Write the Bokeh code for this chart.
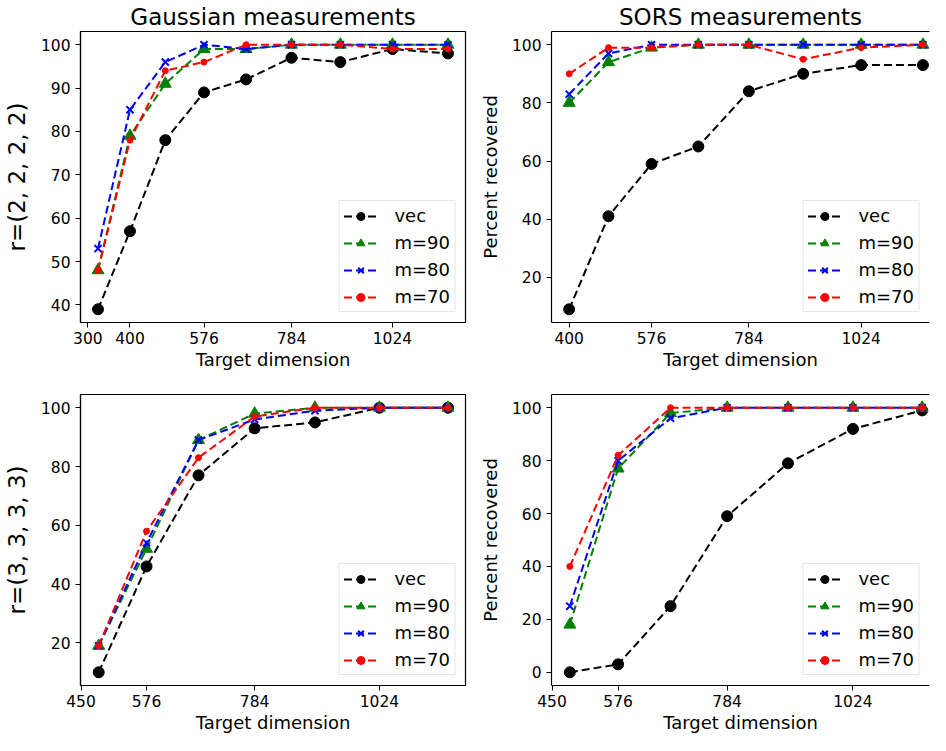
from bokeh.plotting import figure
from bokeh.layouts import column, row
from bokeh.models import Range1d, FixedTicker, LinearAxis
from bokeh.embed import file_html
from bokeh.resources import INLINE

FONT = "DejaVu Sans"

# ---- data ----
labels = ["vec", "m=90", "m=80", "m=70"]

x_tl = [324, 400, 484, 576, 676, 784, 900, 1024, 1156]
tl_vec = [39, 57, 78, 89, 92, 97, 96, 99, 98]
tl_m90 = [48, 79, 91, 99, 99, 100, 100, 100, 100]
tl_m80 = [53, 85, 96, 100, 99, 100, 100, 100, 100]
tl_m70 = [48, 78, 94, 96, 100, 100, 100, 99, 99]

x_tr = [400, 484, 576, 676, 784, 900, 1024, 1156]
tr_vec = [9, 41, 59, 65, 84, 90, 93, 93]
tr_m90 = [80, 94, 99, 100, 100, 100, 100, 100]
tr_m80 = [83, 97, 100, 100, 100, 100, 100, 100]
tr_m70 = [90, 99, 99, 100, 100, 95, 99, 100]

x_b = [484, 576, 676, 784, 900, 1024, 1156]
bl_vec = [10, 46, 77, 93, 95, 100, 100]
bl_m90 = [19, 52, 89, 98, 100, 100, 100]
bl_m80 = [19, 54, 89, 96, 99, 100, 100]
bl_m70 = [19, 58, 83, 97, 100, 100, 100]

br_vec = [0, 3, 25, 59, 79, 92, 99]
br_m90 = [18, 77, 98, 100, 100, 100, 100]
br_m80 = [25, 80, 96, 100, 100, 100, 100]
br_m70 = [40, 82, 100, 100, 100, 100, 100]

xticks_tl = [300, 400, 576, 784, 1024]
xticks_tr = [400, 576, 784, 1024]
xticks_b = [450, 576, 784, 1024]
yticks_tl = [40, 50, 60, 70, 80, 90, 100]
yticks_20 = [0, 20, 40, 60, 80, 100]

titles = ["Gaussian measurements", "SORS measurements"]
ylab_tl = "r=(2, 2, 2, 2)"
ylab_bl = "r=(3, 3, 3, 3)"
ylab_right = "Percent recovered"
xlab = "Target dimension"

styles = [
    dict(color="black", marker="circle", size=11),
    dict(color="#008000", marker="triangle", size=12),
    dict(color="#0000ff", marker="x", size=10),
    dict(color="#ff0000", marker="circle", size=6),
]


def make_fig(x, series, xr, yr, xticks, yticks, ylabel, width, height,
             bl, br, bt, bb, title=None, ylabel_size="18px", open_right=False):
    p = figure(width=width, height=height, output_backend="svg",
               toolbar_location=None, x_range=Range1d(*xr), y_range=Range1d(*yr),
               min_border_left=bl, min_border_right=br, min_border_top=bt,
               min_border_bottom=bb, background_fill_color="white",
               border_fill_color="white")
    if title:
        p.title.text = title
        p.title.align = "center"
        p.title.text_font = FONT
        p.title.text_font_size = "23px"
        p.title.text_font_style = "normal"
        p.title.text_color = "black"
        p.title.standoff = 3
    p.grid.visible = False
    xa = p.below[0]
    ya = p.left[0]
    for ax in (xa, ya):
        ax.axis_line_color = "black"
        ax.axis_line_width = 1.2
        ax.major_tick_line_color = "black"
        ax.major_tick_out = 5
        ax.major_tick_in = 0
        ax.minor_tick_line_color = None
        ax.major_label_text_font = FONT
        ax.major_label_text_font_size = "15.5px"
        ax.major_label_text_color = "black"
        ax.axis_label_text_font = FONT
        ax.axis_label_text_font_style = "normal"
        ax.axis_label_text_color = "black"
    xa.ticker = FixedTicker(ticks=xticks)
    ya.ticker = FixedTicker(ticks=yticks)
    xa.axis_label = xlab
    xa.axis_label_text_font_size = "18px"
    xa.major_label_standoff = 4
    xa.axis_label_standoff = 2
    ya.major_label_standoff = 5
    ya.axis_label = ylabel
    ya.axis_label_text_font_size = ylabel_size
    ya.axis_label_standoff = 8
    if open_right:
        p.outline_line_color = None
        top = LinearAxis(ticker=FixedTicker(ticks=[]), axis_line_color="black",
                         axis_line_width=1.2, major_tick_line_color=None,
                         minor_tick_line_color=None, major_label_text_font_size="0px")
        p.add_layout(top, "above")
    else:
        p.outline_line_color = "black"
        p.outline_line_width = 1.2

    for lab, ys, st in zip(labels, series, styles):
        p.line(x, ys, line_color=st["color"], line_width=2, line_dash="8 4",
               legend_label=lab)
        if st["marker"] == "x":
            p.scatter(x, ys, marker="x", size=st["size"], line_color=st["color"],
                      line_width=2, legend_label=lab)
        else:
            p.scatter(x, ys, marker=st["marker"], size=st["size"],
                      fill_color=st["color"], line_color=st["color"],
                      legend_label=lab)
    lg = p.legend[0]
    lg.location = "bottom_right"
    lg.margin = 10
    lg.padding = 4
    lg.spacing = 6
    lg.glyph_width = 34
    lg.glyph_height = 20
    lg.label_height = 20
    lg.label_standoff = 17
    lg.label_text_font = FONT
    lg.label_text_font_size = "18px"
    lg.label_text_color = "black"
    lg.border_line_color = "#cccccc"
    lg.border_line_width = 1
    lg.background_fill_alpha = 0.8
    return p


p1 = make_fig(x_tl, [tl_vec, tl_m90, tl_m80, tl_m70], (282.4, 1197.6), (35.95, 103.05),
              xticks_tl, yticks_tl, ylab_tl, 472, 372, 71, 7, 24, 48,
              title=titles[0], ylabel_size="23px")
p2 = make_fig(x_tr, [tr_vec, tr_m90, tr_m80, tr_m70], (362.2, 1170), (4.45, 104.55),
              xticks_tr, yticks_20, ylab_right, 458, 372, 79, 1, 24, 48,
              title=titles[1], open_right=True)
p3 = make_fig(x_b, [bl_vec, bl_m90, bl_m80, bl_m70], (449.0, 1189.6), (5.5, 104.5),
              xticks_b, yticks_20, ylab_bl, 472, 363, 71, 7, 22, 41,
              ylabel_size="23px")
p4 = make_fig(x_b, [br_vec, br_m90, br_m80, br_m70], (449.0, 1170), (-5, 105),
              xticks_b, yticks_20, ylab_right, 458, 363, 79, 1, 22, 41,
              open_right=True)

layout = column(row(p1, p2, spacing=0), row(p3, p4, spacing=0), spacing=0)

open("out.html", "w").write(file_html(layout, INLINE))
